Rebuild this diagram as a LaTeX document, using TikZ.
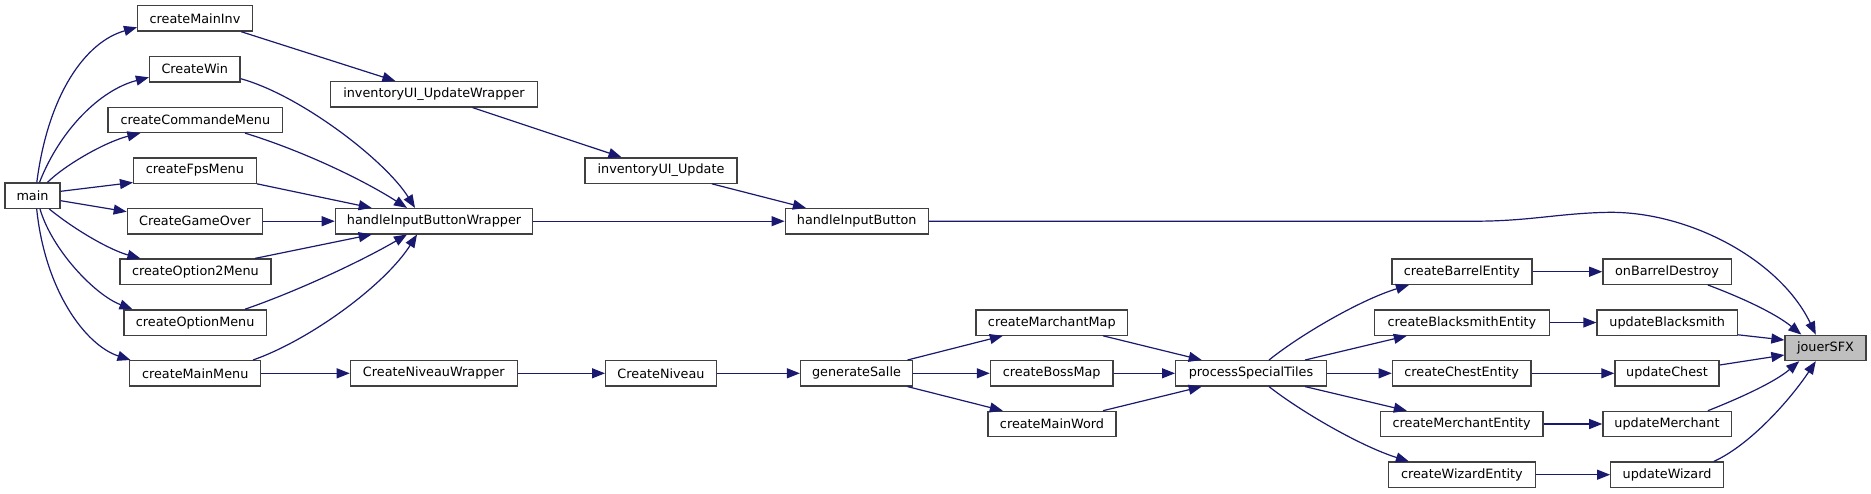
\documentclass[tikz,border=0pt]{standalone}
\usepackage{fontspec}
\setmainfont{DejaVu Sans}
\usetikzlibrary{arrows.meta}
\definecolor{edgec}{HTML}{191970}
\definecolor{boxc}{HTML}{404040}
\begin{document}
\begin{tikzpicture}[x=1pt,y=-1pt,
  fn/.style={draw=boxc,line width=1.3pt,fill=white,inner sep=0pt,minimum height=25.3pt,
    font=\fontsize{12.8}{14}\selectfont,text=black},
  cur/.style={fn,fill=black!25},
  edge/.style={draw=edgec,line width=1.2pt,-{Triangle[length=13pt,width=10pt,fill=edgec]}}]
\useasboundingbox[fill=white] (0,0) rectangle (1871,493);
% nodes
\node[fn,minimum width=55pt] (main) at (32.5,195.7) {main};
\node[fn,minimum width=114.7pt] (cmi) at (195,18.4) {createMainInv};
\node[fn,minimum width=90.5pt] (cw) at (194.8,69.2) {CreateWin};
\node[fn,minimum width=174.7pt] (ccm) at (195.4,119.8) {createCommandeMenu};
\node[fn,minimum width=122.6pt] (cfm) at (194.9,170.5) {createFpsMenu};
\node[fn,minimum width=135.2pt] (cgo) at (194.9,221.2) {CreateGameOver};
\node[fn,minimum width=151.1pt] (co2) at (195.4,271.7) {createOption2Menu};
\node[fn,minimum width=142.7pt] (com) at (195.2,322.5) {createOptionMenu};
\node[fn,minimum width=130.9pt] (cmm) at (195.2,373.3) {createMainMenu};
\node[fn,minimum width=206.8pt] (iuw) at (434,94.3) {inventoryUI\_UpdateWrapper};
\node[fn,minimum width=197.3pt] (hibw) at (434,221.2) {handleInputButtonWrapper};
\node[fn,minimum width=166.9pt] (cnw) at (433.8,373.3) {CreateNiveauWrapper};
\node[fn,minimum width=152pt] (iu) at (661,170.5) {inventoryUI\_Update};
\node[fn,minimum width=110.7pt] (cn) at (661,373.3) {CreateNiveau};
\node[fn,minimum width=143pt] (hib) at (856.7,221.2) {handleInputButton};
\node[fn,minimum width=111.9pt] (gs) at (856.5,373.3) {generateSalle};
\node[fn,minimum width=151.7pt] (cmap) at (1051.8,322.5) {createMarchantMap};
\node[fn,minimum width=122.6pt] (cbm) at (1051.7,373.3) {createBossMap};
\node[fn,minimum width=128.1pt] (cmw) at (1052,424) {createMainWord};
\node[fn,minimum width=150.7pt] (pst) at (1251,373.3) {processSpecialTiles};
\node[fn,minimum width=139.9pt] (cbe) at (1461.9,271.7) {createBarrelEntity};
\node[fn,minimum width=174.8pt] (cbse) at (1461.9,322.5) {createBlacksmithEntity};
\node[fn,minimum width=138.7pt] (cce) at (1461.7,373.3) {createChestEntity};
\node[fn,minimum width=162.7pt] (cme) at (1461.7,424) {createMerchantEntity};
\node[fn,minimum width=146.5pt] (cwe) at (1461.9,474.7) {createWizardEntity};
\node[fn,minimum width=128.3pt] (obd) at (1667,271.7) {onBarrelDestroy};
\node[fn,minimum width=140.3pt] (ub) at (1667.2,322.5) {updateBlacksmith};
\node[fn,minimum width=104.1pt] (uc) at (1667,373.3) {updateChest};
\node[fn,minimum width=128.3pt] (um) at (1667,424) {updateMerchant};
\node[fn,minimum width=112.5pt] (uw) at (1667,474.7) {updateWizard};
\node[cur,minimum width=81pt] (sfx) at (1825.5,347.9) {jouerSFX};
% edges from main
\draw[edge] ([xshift=4.3pt]main.north) .. controls (48,95) and (85,42) .. ([yshift=-8.9pt]cmi.west);
\draw[edge] ([xshift=7pt]main.north) .. controls (60,130) and (100,90) .. ([yshift=-8.1pt]cw.west);
\draw[edge] ([xshift=14.9pt]main.north) .. controls (65,165) and (105,142) .. ([xshift=-55pt]ccm.south);
\draw[edge] ([yshift=4.4pt]main.east) -- ([yshift=1.3pt]cfm.south west);
\draw[edge] ([yshift=-5pt]main.east) -- ([yshift=9.5pt]cgo.west);
\draw[edge] ([xshift=16.8pt]main.south) .. controls (75,230) and (110,250) .. ([xshift=-55pt]co2.north);
\draw[edge] ([xshift=7.5pt]main.south) .. controls (52,250) and (95,295) .. ([xshift=-62.7pt]com.north);
\draw[edge] ([xshift=4.2pt]main.south) .. controls (45,290) and (85,345) .. ([xshift=-64.7pt]cmm.north);
% inventory chain
\draw[edge] ([xshift=46.2pt]cmi.south) -- ([xshift=-38.6pt]iuw.north);
\draw[edge] ([xshift=38.5pt]iuw.south) -- ([xshift=-39.5pt]iu.north);
\draw[edge] ([xshift=50.8pt]iu.south) -- ([xshift=-50.8pt]hib.north);
% into handleInputButtonWrapper
\draw[edge] ([yshift=-9.5pt]cw.east) .. controls (300,95) and (385,160) .. ([xshift=-19pt]hibw.north);
\draw[edge] ([xshift=49.6pt]ccm.south) .. controls (300,150) and (360,178) .. ([xshift=-27pt]hibw.north);
\draw[edge] (cfm.south east) -- ([xshift=-62.3pt]hibw.north);
\draw[edge] (cgo.east) -- (hibw.west);
\draw[edge] ([xshift=59.6pt]co2.north) -- ([xshift=-62.3pt]hibw.south);
\draw[edge] ([xshift=49.8pt]com.north) .. controls (295,292) and (360,262) .. ([xshift=-27pt]hibw.south);
\draw[edge] ([xshift=57.8pt]cmm.north) .. controls (310,340) and (385,285) .. ([xshift=-17pt]hibw.south);
\draw[edge] (hibw.east) -- (hib.west);
\draw[edge] (hib.east) -- (1475,221.2) .. controls (1530,221.2) and (1560,213) .. (1610,212.3)
  .. controls (1690,212) and (1780,260) .. ([xshift=-9.7pt]sfx.north);
% niveau chain
\draw[edge] (cmm.east) -- (cnw.west);
\draw[edge] (cnw.east) -- (cn.west);
\draw[edge] (cn.east) -- (gs.west);
\draw[edge] ([xshift=51pt]gs.north) -- ([xshift=-49pt]cmap.south);
\draw[edge] (gs.east) -- (cbm.west);
\draw[edge] ([xshift=51pt]gs.south) -- ([xshift=-49.2pt]cmw.north);
\draw[edge] ([xshift=51.2pt]cmap.south) -- ([xshift=-49.3pt]pst.north);
\draw[edge] (cbm.east) -- (pst.west);
\draw[edge] ([xshift=51pt]cmw.north) -- ([xshift=-49.3pt]pst.south);
% entities
\draw[edge] ([xshift=18pt]pst.north) .. controls (1300,335) and (1360,300) .. ([xshift=-53pt]cbe.south);
\draw[edge] ([xshift=54.1pt]pst.north) -- ([xshift=-55.1pt]cbse.south);
\draw[edge] (pst.east) -- (cce.west);
\draw[edge] ([xshift=54.1pt]pst.south) -- ([xshift=-54.9pt]cme.north);
\draw[edge] ([xshift=18pt]pst.south) .. controls (1300,411) and (1360,446) .. ([xshift=-53pt]cwe.north);
\draw[edge] (cbe.east) -- (obd.west);
\draw[edge] (cbse.east) -- (ub.west);
\draw[edge] (cce.east) -- (uc.west);
\draw[edge] (cme.east) -- (um.west);
\draw[edge] (cwe.east) -- (uw.west);
% into jouerSFX
\draw[edge] ([xshift=40.9pt]obd.south) .. controls (1740,297) and (1775,313) .. ([xshift=-24.2pt]sfx.north);
\draw[edge] ([yshift=1pt]ub.south east) -- ([yshift=7.9pt]sfx.west);
\draw[edge] ([yshift=8.3pt]uc.east) -- ([yshift=-7.1pt]sfx.west);
\draw[edge] ([xshift=40.9pt]um.north) .. controls (1740,398) and (1775,382) .. ([xshift=-26.3pt]sfx.south);
\draw[edge] ([xshift=46.8pt]uw.north) .. controls (1750,445) and (1790,400) .. ([xshift=-9.7pt]sfx.south);
\end{tikzpicture}
\end{document}
